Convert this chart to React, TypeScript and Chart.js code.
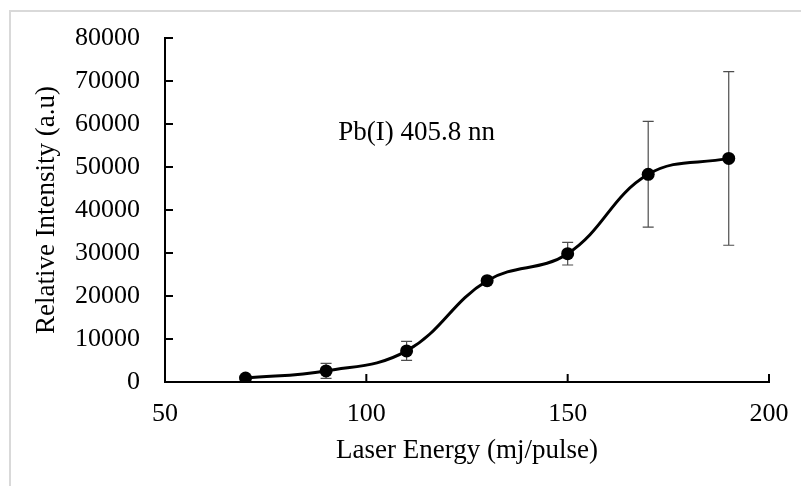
import { useEffect, useRef } from "react";
import Chart from "chart.js/auto";

// Data
const energies = [70, 90, 110, 130, 150, 170, 190];
const intensities = [930, 2570, 7230, 23560, 29850, 48300, 52000];
const errors = [300, 1740, 2220, 400, 2640, 12300, 20200];
const xTicks = [50, 100, 150, 200];
const yTicks = [0, 10000, 20000, 30000, 40000, 50000, 60000, 70000, 80000];
const annotationText = "Pb(I) 405.8 nn";
const annotationX = 93;
const annotationY = 58000;
const xTitle = "Laser Energy (mj/pulse)";
const yTitle = "Relative Intensity (a.u)";

const FONT = "'Liberation Serif', 'Times New Roman', serif";
const TICK_SIZE = 26;
const TITLE_SIZE = 27;

export default function App() {
  const ref = useRef<HTMLCanvasElement | null>(null);

  useEffect(() => {
    const canvas = ref.current;
    if (!canvas) return;

    const framePlugin = {
      id: "frame",
      beforeDraw(chart: any) {
        const ctx = chart.ctx;
        ctx.save();
        ctx.fillStyle = "#ffffff";
        ctx.fillRect(0, 0, chart.width, chart.height);
        ctx.strokeStyle = "#d9d9d9";
        ctx.lineWidth = 2;
        ctx.beginPath();
        ctx.moveTo(9, 11);
        ctx.lineTo(chart.width, 11);
        ctx.moveTo(10, 10);
        ctx.lineTo(10, chart.height);
        ctx.stroke();
        ctx.restore();
      },
    };

    const errorBarPlugin = {
      id: "errorBars",
      beforeDatasetsDraw(chart: any) {
        const ctx = chart.ctx;
        const xs = chart.scales.x;
        const ys = chart.scales.y;
        ctx.save();
        ctx.strokeStyle = "#4d4d4d";
        ctx.lineWidth = 1.2;
        energies.forEach((e, i) => {
          const px = xs.getPixelForValue(e);
          const top = ys.getPixelForValue(intensities[i] + errors[i]);
          const bot = ys.getPixelForValue(intensities[i] - errors[i]);
          ctx.beginPath();
          ctx.moveTo(px, top);
          ctx.lineTo(px, bot);
          ctx.moveTo(px - 5.5, top);
          ctx.lineTo(px + 5.5, top);
          ctx.moveTo(px - 5.5, bot);
          ctx.lineTo(px + 5.5, bot);
          ctx.stroke();
        });
        ctx.restore();
      },
    };

    const tickPlugin = {
      id: "innerTicks",
      afterDraw(chart: any) {
        const ctx = chart.ctx;
        const xs = chart.scales.x;
        const ys = chart.scales.y;
        const area = chart.chartArea;
        ctx.save();
        ctx.strokeStyle = "#000000";
        ctx.lineWidth = 2;
        ctx.beginPath();
        xTicks.forEach((t) => {
          const px = xs.getPixelForValue(t);
          ctx.moveTo(px, area.bottom);
          ctx.lineTo(px, area.bottom - 8);
        });
        yTicks.forEach((t) => {
          const py = ys.getPixelForValue(t);
          ctx.moveTo(area.left, py);
          ctx.lineTo(area.left + 8, py);
        });
        ctx.stroke();
        // annotation text
        ctx.fillStyle = "#000000";
        ctx.font = `${TITLE_SIZE}px ${FONT}`;
        ctx.textAlign = "left";
        ctx.textBaseline = "middle";
        ctx.fillText(
          annotationText,
          xs.getPixelForValue(annotationX),
          ys.getPixelForValue(annotationY)
        );
        ctx.restore();
      },
    };

    const chart = new Chart(canvas, {
      type: "line",
      data: {
        datasets: [
          {
            data: energies.map((e, i) => ({ x: e, y: intensities[i] })),
            borderColor: "#000000",
            backgroundColor: "#000000",
            borderWidth: 3,
            pointRadius: 6.5,
            pointBackgroundColor: "#000000",
            pointBorderColor: "#000000",
            pointBorderWidth: 0,
            tension: 0.4,
            fill: false,
          },
        ],
      },
      options: {
        animation: false,
        responsive: false,
        devicePixelRatio: 1,
        layout: { padding: { left: 0, top: 38, right: 32, bottom: 0 } },
        plugins: {
          legend: { display: false },
          tooltip: { enabled: false },
        },
        scales: {
          x: {
            type: "linear",
            min: 50,
            max: 200,
            afterBuildTicks: (scale: any) => {
              scale.ticks = xTicks.map((v) => ({ value: v }));
            },
            afterFit: (scale: any) => {
              scale.height = 104;
              scale.paddingLeft = 0;
              scale.paddingRight = 0;
            },
            grid: { display: false, drawTicks: false },
            border: { display: true, color: "#000000", width: 2 },
            ticks: {
              color: "#000000",
              font: { family: FONT, size: TICK_SIZE },
              padding: 17,
              maxRotation: 0,
            },
            title: {
              display: true,
              text: xTitle,
              color: "#000000",
              font: { family: FONT, size: TITLE_SIZE },
              padding: { top: 0, bottom: 19 },
            },
          },
          y: {
            type: "linear",
            min: 0,
            max: 80000,
            afterBuildTicks: (scale: any) => {
              scale.ticks = yTicks.map((v) => ({ value: v }));
            },
            afterFit: (scale: any) => {
              scale.width = 165;
              scale.paddingTop = 0;
              scale.paddingBottom = 0;
            },
            grid: { display: false, drawTicks: false },
            border: { display: true, color: "#000000", width: 2 },
            ticks: {
              color: "#000000",
              font: { family: FONT, size: TICK_SIZE },
              padding: 25,
              callback: (v: any) => String(v),
            },
            title: {
              display: true,
              text: yTitle,
              color: "#000000",
              font: { family: FONT, size: TITLE_SIZE },
              padding: { top: 31, bottom: 0 },
            },
          },
        },
      },
      plugins: [framePlugin, errorBarPlugin, tickPlugin],
    });

    return () => chart.destroy();
  }, []);

  return (
    <div style={{ position: "fixed", left: 0, top: 0, width: 801, height: 486 }}>
      <canvas ref={ref} width={801} height={486} style={{ display: "block" }} />
    </div>
  );
}
